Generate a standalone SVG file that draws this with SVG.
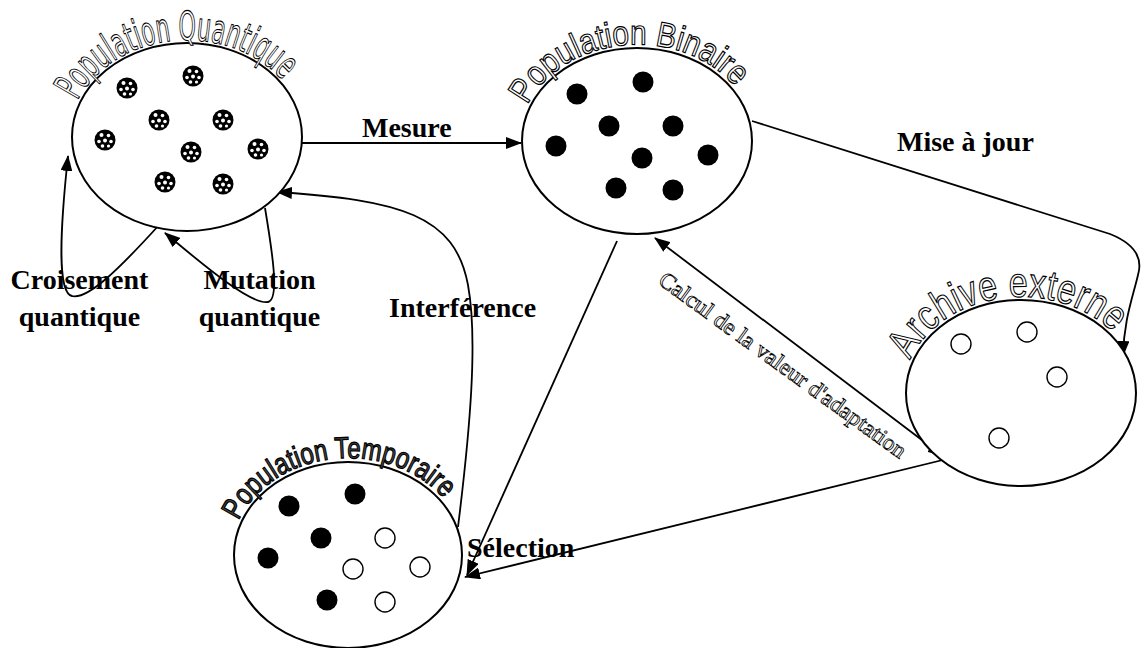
<svg xmlns="http://www.w3.org/2000/svg" xmlns:xlink="http://www.w3.org/1999/xlink" width="1145" height="648" viewBox="0 0 1145 648">
<style>
.ell{fill:#fff;stroke:#000;stroke-width:2}
.fd{fill:#000}
.od{fill:#fff;stroke:#000;stroke-width:1.4}
.con{fill:none;stroke:#000;stroke-width:1.8}
.lbl{font-family:"Liberation Serif","Times New Roman",serif;font-weight:bold;font-size:28px;fill:#000}
.arc{font-family:"Liberation Sans",Arial,sans-serif;fill:#fff;stroke:#000;stroke-width:1.2}
.arcq{font-family:"DejaVu Sans Condensed","DejaVu Sans",sans-serif;font-stretch:condensed;fill:#fff;stroke:#000;stroke-width:1.1}
.calc{font-family:"Liberation Serif","Times New Roman",serif;font-size:23px;fill:#fff;stroke:#000;stroke-width:0.8}
</style>
<defs>
<marker id="ah" viewBox="0 0 16 12" refX="15" refY="6" markerWidth="16" markerHeight="12" markerUnits="userSpaceOnUse" orient="auto-start-reverse">
<path d="M0,0 L16,6 L0,12 z" fill="#000"/>
</marker>
<g id="qd">
<circle r="10.5" fill="#000"/>
<circle cx="-3.5" cy="-5" r="2" fill="#fff"/>
<circle cx="3.5" cy="-4.5" r="1.8" fill="#fff"/>
<circle cx="-6" cy="1.5" r="1.8" fill="#fff"/>
<circle cx="0" cy="0.5" r="2" fill="#fff"/>
<circle cx="6" cy="1.5" r="1.8" fill="#fff"/>
<circle cx="-2.5" cy="6" r="1.8" fill="#fff"/>
<circle cx="3.5" cy="6" r="1.6" fill="#fff"/>
</g>
<path id="p1" d="M77.6,100.6 A118,97 0 0 1 284,82"/>
<path id="p2" d="M527.6,105 A118,96 0 0 1 736,88"/>
<path id="p3" d="M910.1,360.2 A118,96 0 0 1 1118,338"/>
<path id="p4" d="M238.7,520.6 A117,96 0 0 1 445,500"/>
</defs>
<rect width="1145" height="648" fill="#fff"/>

<g id="connectors">
<line class="con" x1="302" y1="143" x2="521" y2="143" marker-end="url(#ah)"/>
<path class="con" d="M752,121 L1110,234 C1135,244 1143,258 1138,275 C1132,300 1124,320 1123,356" marker-end="url(#ah)"/>
<line class="con" x1="655" y1="238" x2="943" y2="456" marker-start="url(#ah)" marker-end="url(#ah)"/>
<line class="con" x1="955" y1="457" x2="465" y2="577" marker-end="url(#ah)"/>
<line class="con" x1="617" y1="241" x2="467" y2="575" marker-end="url(#ah)"/>
<path class="con" d="M458,527 C470,430 478,340 468,285 C455,215 400,200 277,192" marker-end="url(#ah)"/>
<path class="con" d="M160,224 C120,268 88,300 72,296 C58,293 59,240 68,156" marker-end="url(#ah)"/>
<path class="con" d="M265,208 C272,250 280,300 268,302 C250,305 200,262 165,233" marker-end="url(#ah)"/>
<text class="lbl" x="362" y="137">Mesure</text>
<text class="lbl" x="897" y="151">Mise à jour</text>
<text class="lbl" x="389" y="317">Interférence</text>
<text class="lbl" x="467" y="557">Sélection</text>
<text class="lbl" x="79.5" y="289" text-anchor="middle">Croisement</text>
<text class="lbl" x="79.5" y="326" text-anchor="middle">quantique</text>
<text class="lbl" x="259.5" y="289" text-anchor="middle">Mutation</text>
<text class="lbl" x="259.5" y="326" text-anchor="middle">quantique</text>
<text class="calc" transform="translate(657,283) rotate(36)" textLength="300" lengthAdjust="spacingAndGlyphs">Calcul de la valeur d'adaptation</text>
</g>

<g id="pop-quantique">
<ellipse class="ell" cx="187" cy="137" rx="115" ry="94"/>
<use xlink:href="#qd" x="127" y="88"/>
<use xlink:href="#qd" x="193" y="76"/>
<use xlink:href="#qd" x="159" y="120"/>
<use xlink:href="#qd" x="223" y="120"/>
<use xlink:href="#qd" x="105" y="140"/>
<use xlink:href="#qd" x="191" y="152"/>
<use xlink:href="#qd" x="258" y="149"/>
<use xlink:href="#qd" x="165" y="182"/>
<use xlink:href="#qd" x="223" y="184"/>
<text class="arcq" font-size="40"><textPath xlink:href="#p1" textLength="238" lengthAdjust="spacingAndGlyphs">Population Quantique</textPath></text>
</g>

<g id="pop-binaire">
<ellipse class="ell" cx="637" cy="141" rx="115" ry="93"/>
<circle class="fd" cx="577" cy="94" r="10.5"/>
<circle class="fd" cx="643" cy="82" r="10.5"/>
<circle class="fd" cx="609" cy="126" r="10.5"/>
<circle class="fd" cx="673" cy="126" r="10.5"/>
<circle class="fd" cx="556" cy="146" r="10.5"/>
<circle class="fd" cx="642" cy="158" r="10.5"/>
<circle class="fd" cx="708" cy="155" r="10.5"/>
<circle class="fd" cx="616" cy="188" r="10.5"/>
<circle class="fd" cx="673" cy="190" r="10.5"/>
<text class="arc" font-size="35"><textPath xlink:href="#p2" textLength="242" lengthAdjust="spacingAndGlyphs">Population Binaire</textPath></text>
</g>

<g id="archive-externe">
<ellipse class="ell" cx="1021" cy="393" rx="115" ry="93"/>
<circle class="od" cx="961" cy="344" r="10"/>
<circle class="od" cx="1027" cy="332" r="10"/>
<circle class="od" cx="1057" cy="377" r="10"/>
<circle class="od" cx="999" cy="438" r="10"/>
<text class="arc" font-size="42"><textPath xlink:href="#p3" textLength="236" lengthAdjust="spacingAndGlyphs">Archive externe</textPath></text>
</g>

<g id="pop-temporaire">
<ellipse class="ell" cx="348" cy="555" rx="114" ry="93"/>
<circle class="fd" cx="289" cy="506" r="10.5"/>
<circle class="fd" cx="355" cy="494" r="10.5"/>
<circle class="fd" cx="321" cy="538" r="10.5"/>
<circle class="fd" cx="268" cy="558" r="10.5"/>
<circle class="fd" cx="327" cy="600" r="10.5"/>
<circle class="od" cx="385" cy="538" r="10"/>
<circle class="od" cx="353" cy="569" r="10"/>
<circle class="od" cx="420" cy="567" r="10"/>
<circle class="od" cx="385" cy="602" r="10"/>
<text class="arc" font-size="30" style="fill:#444"><textPath xlink:href="#p4" textLength="240" lengthAdjust="spacingAndGlyphs">Population Temporaire</textPath></text>
</g>
</svg>
